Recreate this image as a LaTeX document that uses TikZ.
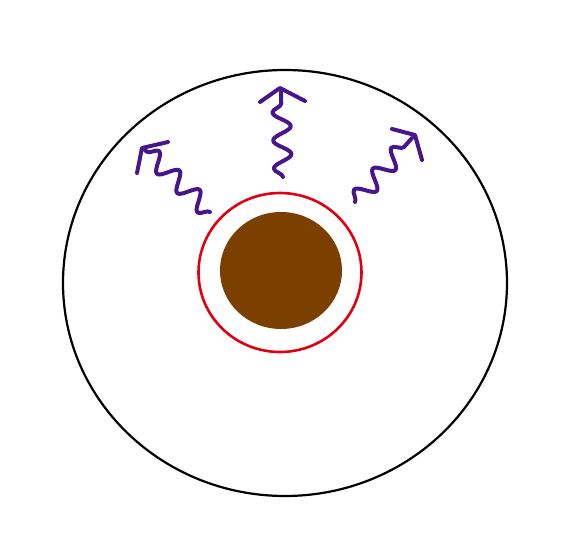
\documentclass[tikz,border=0pt]{standalone}
\usetikzlibrary{decorations.pathmorphing}
\definecolor{wavepurple}{HTML}{48168C}
\definecolor{corebrown}{HTML}{7B3F00}
\definecolor{ringred}{HTML}{E00010}
\tikzset{
  wave/.style={draw=wavepurple, line width=4pt, line cap=round, line join=round,
    decorate, decoration={snake, segment length=28pt, amplitude=9pt}},
  whead/.style={draw=wavepurple, line width=4pt, line cap=round, line join=round},
}
\begin{document}
\begin{tikzpicture}[x=1pt,y=-1pt]
\useasboundingbox (0,0) rectangle (563,545);
% outer circle
\draw[black, line width=2.2pt] (285,283) ellipse [x radius=222, y radius=213];
% core
\fill[corebrown] (281,270.5) ellipse [x radius=61, y radius=58.5];
\draw[ringred, line width=2.6pt] (280,272.5) ellipse [x radius=81.5, y radius=79.5];
% left wave
\coordinate (t1) at (210,212);
\coordinate (p1) at (145,150);
\draw[wave] (t1) -- (p1);
\draw[whead] (168,142) -- (142,148) -- (137,173);
% middle wave
\coordinate (t2) at (283,177);
\coordinate (p2) at (281,92);
\draw[wave] (t2) -- (p2);
\draw[whead] (260,102) -- (280,88) -- (305,101);
% right wave
\coordinate (t3) at (355,202);
\coordinate (p3) at (412,138);
\draw[wave] (t3) -- (p3);
\draw[whead] (392,129) -- (415,135) -- (422,160);
\end{tikzpicture}
\end{document}
